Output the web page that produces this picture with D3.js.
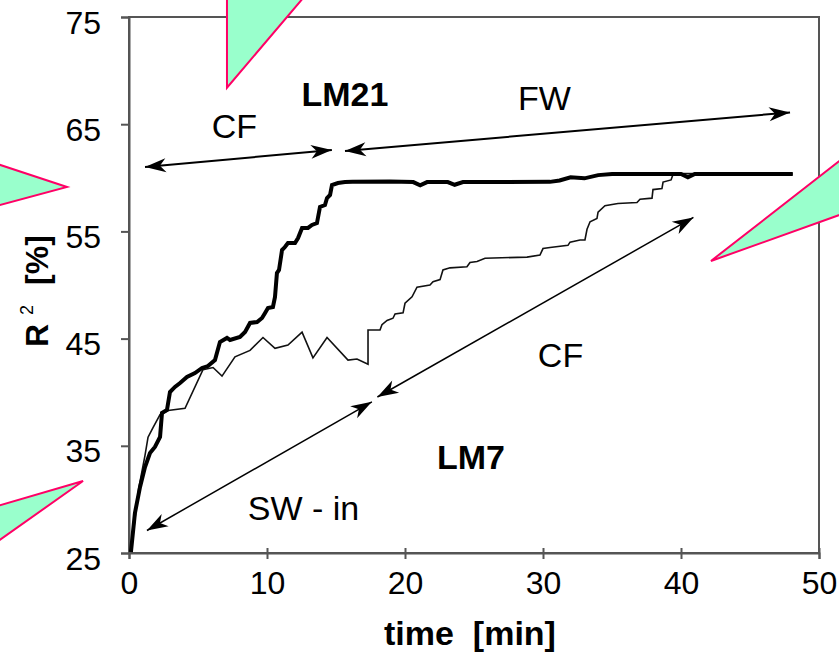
<!DOCTYPE html>
<html>
<head>
<meta charset="utf-8">
<script src="https://cdn.jsdelivr.net/npm/d3@7"></script>
<style>
  html, body { margin: 0; padding: 0; background: #fff; }
  svg { display: block; }
  text { font-family: "Liberation Sans", Arial, sans-serif; fill: #000; }
</style>
</head>
<body>
<svg id="chart" width="839" height="652"></svg>
<script>
// ---- data (time in min, R^2 in %) ----
const lm21Time = [0.14,0.43,0.8,1.16,1.52,1.88,2.25,2.39,2.75,2.97,3.33,3.7,4.2,4.78,5.29,5.72,6.23,6.59,7.1,
  7.32,8.04,8.41,8.77,9.28,9.64,9.86,10.07,10.43,10.58,10.72,10.87,11.09,11.3,11.52,12.03,12.25,12.54,12.97,13.26,13.62,13.84,14.2,14.35,14.57,14.71,15.14,15.65,
  16.2,18.9,20.6,21.1,21.6,23.1,23.6,24.2,30.5,31.2,32.0,33.0,34.0,35.0,40.0,40.5,41.0,48.1];
const lm21R = [25.09,28.73,31.16,33.02,34.33,34.89,35.82,38.06,38.34,40.02,40.49,40.86,41.42,41.79,42.26,42.44,43.0,44.68,45.06,
  44.87,45.15,45.62,46.46,46.55,46.92,47.39,47.85,47.95,48.88,51.12,51.4,53.26,53.54,53.92,53.92,54.38,55.32,55.32,55.6,55.78,57.28,57.46,58.12,58.4,59.33,59.51,59.6,
  59.62,59.65,59.6,59.3,59.6,59.6,59.35,59.6,59.62,59.75,60.05,59.95,60.25,60.35,60.35,60.05,60.35,60.35];

const lm7Time = [0.14,0.7,1.16,1.38,1.74,2.25,2.83,4.06,5.36,6.09,6.74,7.68,8.77,9.71,10.58,11.52,12.54,13.33,14.35,15.87,16.52,17.32,
  17.32,18.19,18.33,18.7,19.13,19.28,19.86,20.0,20.51,20.87,21.81,22.03,22.54,22.75,23.26,24.49,24.71,25.22,25.8,28.84,29.78,30.0,30.51,31.81,31.96,32.68,33.04,
  33.19,33.41,33.91,33.99,34.49,35.43,36.81,37.03,37.9,37.97,38.62,38.7,39.28,39.42,39.93,48.1];
const lm7R = [25.1,31.0,34.1,35.8,36.7,37.9,38.3,38.5,42.1,42.3,41.5,43.3,43.9,45.1,44.1,44.4,45.6,43.2,45.1,43.0,43.1,42.6,
  45.8,45.8,46.3,46.7,46.9,47.3,47.4,48.3,48.9,49.8,50.0,50.3,50.5,51.4,51.6,51.7,52.1,52.2,52.5,52.6,52.8,53.4,53.5,53.7,54.0,54.2,54.2,
  55.2,55.9,56.2,56.8,57.4,57.6,57.7,58.0,58.1,58.9,59.0,59.6,59.8,60.3,60.4,60.35];

const xTicks = [0,10,20,30,40,50];
const yTicks = [25,35,45,55,65,75];
const xTitle = "time  [min]";

// annotation labels (anchor in data units)
const labelText = ["CF","LM21","FW","CF","LM7","SW - in"];
const labelTime = [7.64,15.65,30.11,31.27,24.78,12.64];
const labelR    = [63.71,66.7,66.32,42.35,32.84,28.08];
const labelBold = [false,true,false,false,true,false];

// double-headed arrows (data units)
const arrowT1 = [1.16,15.65,1.3,18.0];
const arrowR1 = [61.0,62.5,27.1,39.55];
const arrowT2 = [14.7,47.9,17.6,40.9];
const arrowR2 = [62.6,66.1,39.1,56.3];

// callout pointers (data units: tip, base1, base2)
const calloutT = [[7.1,7.1,14.35],[-4.49,-11.52,-11.52],[42.17,53.7,53.7],[-3.33,-11.52,-11.52]];
const calloutR = [[68.4,79.4,79.4],[59.14,62.13,56.72],[52.24,63.8,57.56],[31.72,28.64,24.25]];

// ---- drawing ----
const svg = d3.select("#chart");
const x = d3.scaleLinear().domain([0,50]).range([129,819]);
const y = d3.scaleLinear().domain([25,75]).range([553,17]);
const axisColor = "#555";

// frame
svg.append("rect").attr("x", x(0)).attr("y", y(75)).attr("width", x(50)-x(0)).attr("height", y(25)-y(75))
  .attr("fill","none").attr("stroke",axisColor).attr("stroke-width",2);

// y axis
const yAxis = d3.axisLeft(y).tickValues(yTicks).tickSize(8).tickPadding(20).tickFormat(d3.format("d"));
const gy = svg.append("g").attr("transform",`translate(${x(0)},0)`).call(yAxis);
gy.select(".domain").attr("stroke",axisColor).attr("stroke-width",2);
gy.selectAll(".tick line").attr("stroke",axisColor).attr("stroke-width",2);
gy.selectAll(".tick text").attr("font-size",32).attr("font-family","Liberation Sans, Arial, sans-serif").attr("dy","0.5em");

// x axis
const xAxis = d3.axisBottom(x).tickValues(xTicks).tickSize(6).tickPadding(12).tickFormat(d3.format("d"));
const gx = svg.append("g").attr("transform",`translate(0,${y(25)})`).call(xAxis);
gx.select(".domain").attr("stroke",axisColor).attr("stroke-width",2);
gx.selectAll(".tick line").attr("stroke",axisColor).attr("stroke-width",2).attr("y1",-5);
gx.selectAll(".tick text").attr("font-size",32).attr("font-family","Liberation Sans, Arial, sans-serif").attr("dy","0.71em");

// axis titles
svg.append("text").attr("x", 470).attr("y", 645).attr("text-anchor","middle")
  .attr("font-size",34).attr("font-weight","bold").style("white-space","pre").text(xTitle);

const yt = svg.append("text").attr("transform","translate(48,347) rotate(-90)").attr("font-size",32).attr("font-weight","bold");
yt.append("tspan").text("R");
yt.append("tspan").attr("dx",9).attr("dy",-15).attr("font-size",18).attr("font-weight","normal").text("2");
yt.append("tspan").attr("dx",20).attr("dy",15).text("[%]");

// arrow marker
const defs = svg.append("defs");
defs.append("marker").attr("id","ah").attr("viewBox","-22 -8 24 16").attr("refX",0).attr("refY",0)
  .attr("markerWidth",24).attr("markerHeight",16).attr("markerUnits","userSpaceOnUse").attr("orient","auto-start-reverse")
  .append("path").attr("d","M0,0 L-21,-7 L-15,0 L-21,7 Z").attr("fill","#000");

// series lines
const line = d3.line().x(d => x(d[0])).y(d => y(d[1]));
svg.append("path").datum(d3.zip(lm7Time, lm7R)).attr("d", line)
  .attr("fill","none").attr("stroke","#111").attr("stroke-width",1.6).attr("stroke-linejoin","miter");
svg.append("path").datum(d3.zip(lm21Time, lm21R)).attr("d", line)
  .attr("fill","none").attr("stroke","#000").attr("stroke-width",4).attr("stroke-linejoin","miter");

// arrows
arrowT1.forEach((t,i) => {
  svg.append("line").attr("x1",x(t)).attr("y1",y(arrowR1[i])).attr("x2",x(arrowT2[i])).attr("y2",y(arrowR2[i]))
    .attr("stroke","#000").attr("stroke-width", i < 2 ? 2 : 1.5)
    .attr("marker-start","url(#ah)").attr("marker-end","url(#ah)");
});

// labels
labelText.forEach((s,i) => {
  svg.append("text").attr("x",x(labelTime[i])).attr("y",y(labelR[i])).attr("text-anchor","middle")
    .attr("font-size",34).attr("font-weight", labelBold[i] ? "bold" : "normal")
    .style("white-space","pre").text(s);
});

// callout pointers
calloutT.forEach((ts,i) => {
  const pts = ts.map((t,j) => [x(t), y(calloutR[i][j])]);
  svg.append("path").attr("d", d3.line()(pts) + "Z")
    .attr("fill","#99ffcc").attr("stroke","#ff0066").attr("stroke-width",2).attr("stroke-linejoin","miter");
});
</script>
</body>
</html>
